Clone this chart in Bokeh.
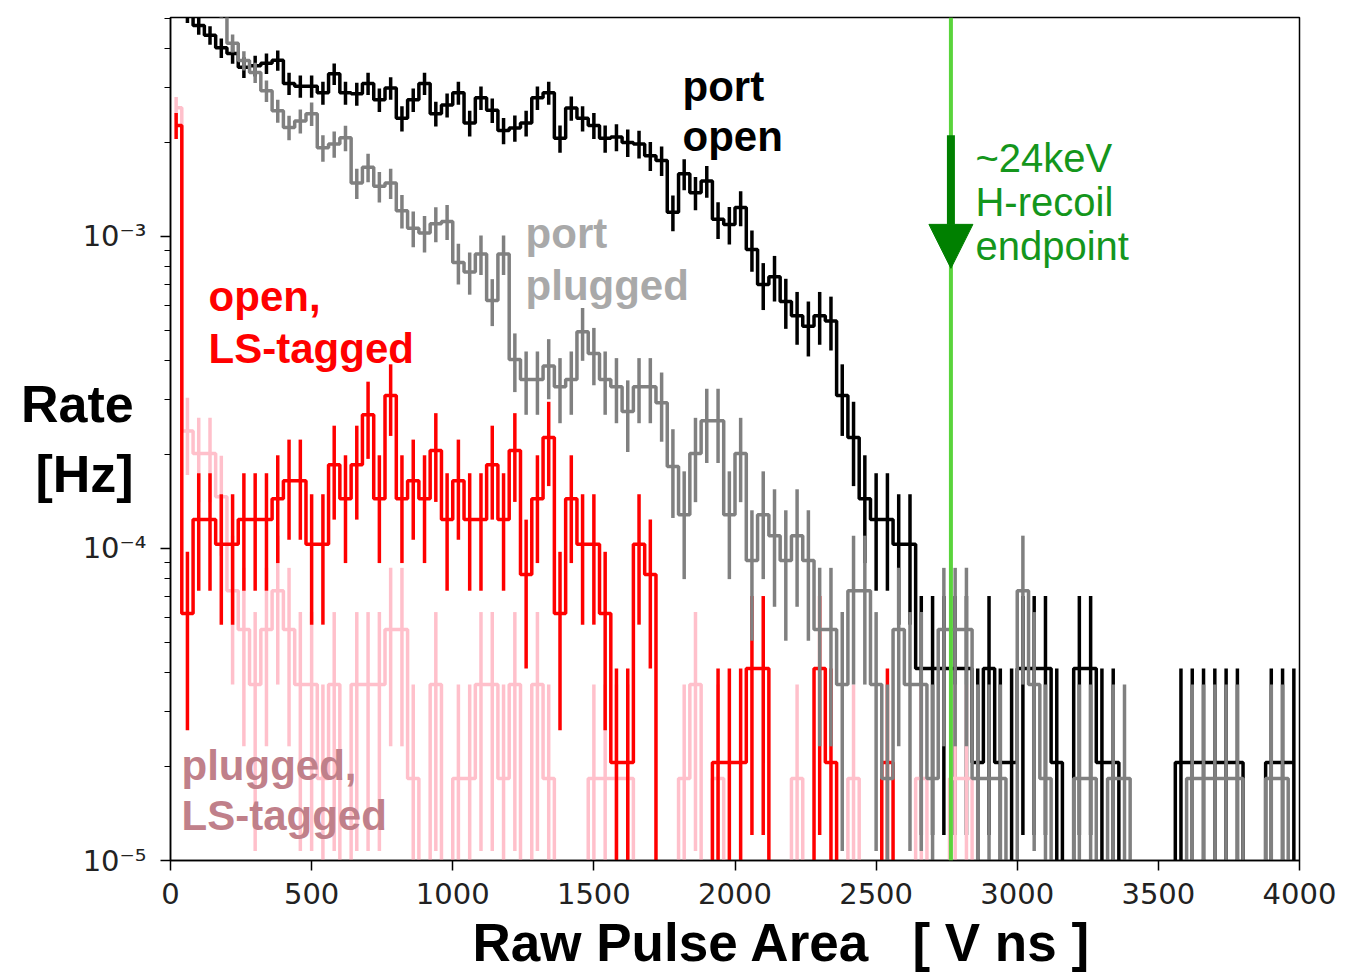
import numpy as np
from bokeh.plotting import figure
from bokeh.models import Label, Span, Arrow, NormalHead, FixedTicker, CustomJSTickFormatter, Title
from bokeh.embed import file_html
from bokeh.resources import INLINE

# Histogram binning of the raw pulse area [V ns]
bin_edges = np.arange(0, 4001, 40)
bin_centers = 0.5 * (bin_edges[:-1] + bin_edges[1:])

# Live times of the two configurations [s]
livetime_open = 48500.0
livetime_plugged = 54600.0

# Counts per bin
counts_port_open = [
    300, 250, 230, 214, 195, 187, 169, 171, 174, 178,
    150, 147, 147, 140, 161, 140, 139, 150, 133, 145,
    116, 133, 150, 120, 128, 140, 112, 135, 123, 106,
    108, 112, 135, 140, 100, 125, 116, 110, 100, 101,
    97, 96, 88, 85, 58, 77, 67, 73, 55, 53,
    60, 44, 34, 36, 30, 27, 25, 27, 26, 15,
    11, 7, 6, 6, 5, 5, 2, 2, 2, 2,
    2, 1, 2, 1, 1, 2, 2, 2, 1, 0,
    2, 2, 1, 1, 0, 0, 0, 0, 0, 1,
    1, 1, 1, 1, 1, 0, 0, 1, 1, 1,
]
counts_port_plugged = [
    420, 380, 340, 300, 290, 227, 200, 183, 160, 138,
    122, 128, 135, 105, 108, 113, 81, 91, 79, 81,
    66, 58, 56, 60, 61, 45, 42, 48, 34, 48,
    22, 19, 19, 21, 18, 19, 27, 23, 19, 18,
    15, 18, 18, 16, 10, 7, 11, 14, 14, 7,
    11, 5, 7, 6, 5, 6, 5, 3, 3, 2,
    4, 4, 2, 1, 3, 2, 2, 1, 3, 3,
    3, 1, 1, 1, 0, 4, 2, 1, 0, 0,
    1, 1, 0, 1, 1, 0, 0, 0, 0, 0,
    1, 1, 1, 1, 1, 0, 0, 1, 1, 0,
]
counts_open_ls_tagged = [
    110, 3, 6, 6, 5, 5, 6, 6, 6, 7,
    8, 8, 5, 5, 9, 7, 9, 13, 7, 15,
    7, 8, 7, 10, 6, 8, 6, 6, 9, 6,
    10, 4, 7, 11, 3, 7, 5, 5, 3, 1,
    1, 5, 4, 0, 0, 0, 0, 0, 1, 1,
    1, 2, 2, 0, 0, 0, 0, 2, 1, 0,
    0, 0, 0, 1, 0, 0, 0, 0, 0, 0,
    0, 0, 0, 0, 0, 0, 0, 0, 0, 0,
    0, 0, 0, 0, 0, 0, 0, 0, 0, 0,
    0, 0, 0, 0, 0, 0, 0, 0, 0, 0,
]
counts_plugged_ls_tagged = [
    141, 13, 11, 11, 8, 4, 3, 2, 3, 4,
    3, 2, 2, 1, 2, 0, 2, 2, 2, 3,
    3, 1, 0, 2, 0, 1, 1, 2, 2, 1,
    2, 0, 2, 1, 0, 0, 0, 1, 1, 1,
    1, 0, 0, 0, 0, 1, 2, 0, 1, 0,
    0, 0, 0, 0, 0, 1, 0, 0, 0, 0,
    1, 0, 0, 0, 0, 0, 1, 0, 0, 1,
    1, 0, 0, 0, 0, 0, 0, 0, 0, 0,
    0, 0, 0, 0, 0, 0, 0, 0, 0, 0,
    0, 0, 0, 0, 0, 0, 0, 0, 0, 0,
]

# Expected H-recoil endpoint (~24 keV) in pulse-area units
endpoint_area = 2765

FLOOR = 1e-9  # stands in for empty bins on the log axis

p = figure(
    width=1356, height=978,
    x_range=(0, 4000), y_range=(1e-5, 5.03e-3),
    y_axis_type="log",
    output_backend="svg", toolbar_location=None,
    min_border_left=170, min_border_right=57,
    min_border_top=17, min_border_bottom=118,
)
p.background_fill_color = "white"
p.border_fill_color = "white"
p.xgrid.visible = False
p.ygrid.visible = False
p.outline_line_color = "black"
p.outline_line_width = 1.5


def draw_hist(counts, livetime, color):
    n = np.asarray(counts, dtype=float)
    rate = n / livetime
    err = np.sqrt(n) / livetime
    p.step(bin_centers, np.where(n > 0, rate, FLOOR), mode="center",
           line_color=color, line_width=3.5)
    nz = n > 0
    lo = np.maximum(rate - err, FLOOR)
    hi = rate + err
    p.segment(x0=bin_centers[nz], y0=lo[nz], x1=bin_centers[nz], y1=hi[nz],
              line_color=color, line_width=3.5)


draw_hist(counts_port_open, livetime_open, "black")
draw_hist(counts_plugged_ls_tagged, livetime_plugged, "pink")
draw_hist(counts_open_ls_tagged, livetime_open, "red")
draw_hist(counts_port_plugged, livetime_plugged, "gray")

# Endpoint marker
p.add_layout(Span(location=endpoint_area, dimension="height",
                  line_color="#5ad43c", line_width=4))
dark_green = "#008000"
p.add_layout(Arrow(end=NormalHead(size=44, fill_color=dark_green, line_color=dark_green, line_width=1),
                   x_start=endpoint_area, y_start=2.11e-3,
                   x_end=endpoint_area, y_end=7.9e-4,
                   line_color=dark_green, line_width=8))

# Axes
p.xaxis.ticker = FixedTicker(ticks=list(range(0, 4001, 500)))
p.yaxis.ticker = FixedTicker(
    ticks=[1e-5, 1e-4, 1e-3],
    minor_ticks=[m * 1e-5 for m in range(2, 10)] + [m * 1e-4 for m in range(2, 10)]
    + [m * 1e-3 for m in range(2, 6)],
)
p.yaxis.formatter = CustomJSTickFormatter(code="""
const e = Math.round(Math.log10(tick));
const sup = {"-": "\u207b", "0": "\u2070", "1": "\u00b9", "2": "\u00b2", "3": "\u00b3",
             "4": "\u2074", "5": "\u2075", "6": "\u2076", "7": "\u2077", "8": "\u2078", "9": "\u2079"};
return "10" + String(e).split("").map(c => sup[c]).join("");
""")
for ax in (p.xaxis[0], p.yaxis[0]):
    ax.axis_line_color = "black"
    ax.axis_line_width = 1.5
    ax.major_tick_line_color = "black"
    ax.major_tick_line_width = 1.5
    ax.major_tick_out = 10
    ax.major_tick_in = 0
    ax.major_label_text_font = "DejaVu Sans"
    ax.major_label_text_font_size = "29px"
    ax.major_label_text_color = "#222222"
p.xaxis.minor_tick_line_color = None
p.xaxis.major_label_standoff = 12
p.yaxis.minor_tick_line_color = "black"
p.yaxis.minor_tick_line_width = 1.2
p.yaxis.minor_tick_out = 6
p.yaxis.minor_tick_in = 0
p.yaxis.major_label_standoff = 14

# y-axis title, written horizontally beside the tick labels
p.yaxis.axis_label = "Rate\n[Hz]"
p.yaxis.axis_label_orientation = "horizontal"
p.yaxis.axis_label_text_font = "Liberation Sans"
p.yaxis.axis_label_text_font_size = "52px"
p.yaxis.axis_label_text_font_style = "bold"
p.yaxis.axis_label_text_color = "black"
p.yaxis.axis_label_text_align = "center"
p.yaxis.axis_label_standoff = -54

# x-axis title
p.add_layout(Title(text="Raw Pulse Area\u00a0\u00a0\u00a0[ V ns ]", align="left", offset=302,
                   text_font="Liberation Sans", text_font_size="53px",
                   text_font_style="bold", text_color="black", standoff=8), "below")


def add_text(x, y, text, color, size, bold=True, align="left"):
    p.add_layout(Label(x=x, y=y, text=text, text_color=color,
                       text_font="Liberation Sans", text_font_size=size,
                       text_font_style="bold" if bold else "normal",
                       text_align=align, text_baseline="alphabetic"))


add_text(1814, 3.03e-3, "port", "black", "42px")
add_text(1814, 2.09e-3, "open", "black", "42px")
add_text(1258, 1.022e-3, "port", "#a9a9a9", "42px")
add_text(1258, 6.96e-4, "plugged", "#a9a9a9", "42px")
add_text(135, 6.43e-4, "open,", "red", "42px")
add_text(135, 4.37e-4, "LS-tagged", "red", "42px")
add_text(39, 2.017e-5, "plugged,", "#c0808a", "42px")
add_text(39, 1.395e-5, "LS-tagged", "#c0808a", "42px")
add_text(2852, 1.79e-3, "~24keV", "#14961c", "40px", bold=False)
add_text(2852, 1.285e-3, "H-recoil", "#14961c", "40px", bold=False)
add_text(2852, 9.35e-4, "endpoint", "#14961c", "40px", bold=False)

open("out.html", "w").write(file_html(p, INLINE))
